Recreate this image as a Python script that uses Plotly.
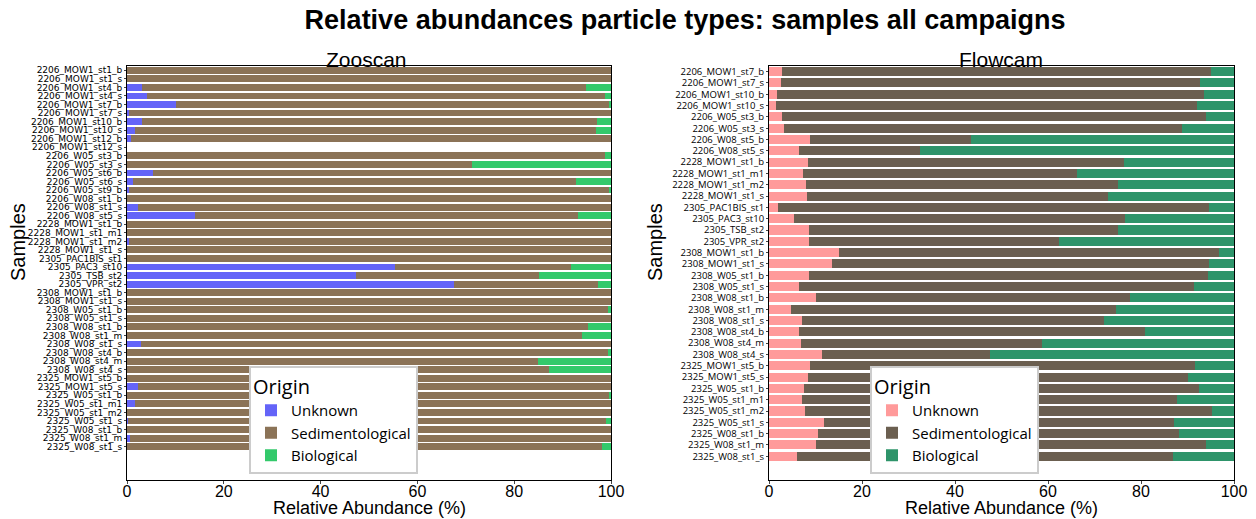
import plotly.graph_objects as go

# ---------------- Zooscan data ----------------
zoo_samples = [
    "2206_MOW1_st1_b", "2206_MOW1_st1_s", "2206_MOW1_st4_b", "2206_MOW1_st4_s",
    "2206_MOW1_st7_b", "2206_MOW1_st7_s", "2206_MOW1_st10_b", "2206_MOW1_st10_s",
    "2206_MOW1_st12_b", "2206_MOW1_st12_s", "2206_W05_st3_b", "2206_W05_st3_s",
    "2206_W05_st6_b", "2206_W05_st6_s", "2206_W05_st9_b", "2206_W08_st1_b",
    "2206_W08_st1_s", "2206_W08_st5_s", "2228_MOW1_st1_b", "2228_MOW1_st1_m1",
    "2228_MOW1_st1_m2", "2228_MOW1_st1_s", "2305_PAC1BIS_st1", "2305_PAC3_st10",
    "2305_TSB_st2", "2305_VPR_st2", "2308_MOW1_st1_b", "2308_MOW1_st1_s",
    "2308_W05_st1_b", "2308_W05_st1_s", "2308_W08_st1_b", "2308_W08_st1_m",
    "2308_W08_st1_s", "2308_W08_st4_b", "2308_W08_st4_m", "2308_W08_st4_s",
    "2325_MOW1_st5_b", "2325_MOW1_st5_s", "2325_W05_st1_b", "2325_W05_st1_m1",
    "2325_W05_st1_m2", "2325_W05_st1_s", "2325_W08_st1_b", "2325_W08_st1_m",
    "2325_W08_st1_s",
]
zoo_unknown = [0, 0, 3.0, 4.1, 10.2, 0.5, 3.1, 1.6, 0.9, 0,
               0, 0, 5.4, 1.2, 0.5, 0, 2.2, 14.0, 0, 0,
               0.5, 0, 0, 55.3, 47.3, 67.6, 0, 0, 0, 0,
               0, 0, 2.9, 0, 0, 0, 0, 2.2, 0, 1.7,
               0, 0.3, 0, 0.7, 0]
zoo_sediment = [100, 100, 91.8, 94.6, 89.3, 99.5, 94.0, 95.4, 99.1, 0,
                98.7, 71.3, 94.6, 91.6, 99.0, 100, 97.8, 79.2, 100, 100,
                99.5, 100, 100, 36.4, 37.9, 29.7, 100, 100, 99.4, 100,
                95.2, 94.1, 97.1, 99.4, 85.0, 87.2, 100, 97.8, 99.5, 98.3,
                100, 98.7, 100, 99.3, 98.1]
zoo_bio = [0, 0, 5.2, 1.3, 0.5, 0, 2.9, 3.0, 0, 0,
           1.3, 28.7, 0, 7.2, 0.5, 0, 0, 6.8, 0, 0,
           0, 0, 0, 8.3, 14.8, 2.7, 0, 0, 0.6, 0,
           4.8, 5.9, 0, 0.6, 15.0, 12.8, 0, 0, 0.5, 0,
           0, 1.0, 0, 0, 1.9]

# ---------------- Flowcam data ----------------
flow_samples = [
    "2206_MOW1_st7_b", "2206_MOW1_st7_s", "2206_MOW1_st10_b", "2206_MOW1_st10_s",
    "2206_W05_st3_b", "2206_W05_st3_s", "2206_W08_st5_b", "2206_W08_st5_s",
    "2228_MOW1_st1_b", "2228_MOW1_st1_m1", "2228_MOW1_st1_m2", "2228_MOW1_st1_s",
    "2305_PAC1BIS_st1", "2305_PAC3_st10", "2305_TSB_st2", "2305_VPR_st2",
    "2308_MOW1_st1_b", "2308_MOW1_st1_s", "2308_W05_st1_b", "2308_W05_st1_s",
    "2308_W08_st1_b", "2308_W08_st1_m", "2308_W08_st1_s", "2308_W08_st4_b",
    "2308_W08_st4_m", "2308_W08_st4_s", "2325_MOW1_st5_b", "2325_MOW1_st5_s",
    "2325_W05_st1_b", "2325_W05_st1_m1", "2325_W05_st1_m2", "2325_W05_st1_s",
    "2325_W08_st1_b", "2325_W08_st1_m", "2325_W08_st1_s",
]
flow_unknown = [2.9, 2.5, 1.7, 1.4, 2.9, 3.2, 8.8, 6.5, 8.4, 7.4,
                7.9, 8.1, 1.9, 5.3, 8.6, 8.6, 15.0, 13.5, 8.5, 6.4,
                10.0, 4.8, 7.0, 6.4, 6.8, 11.5, 8.8, 8.3, 7.6, 7.0,
                7.7, 11.9, 10.5, 10.2, 6.1]
flow_sediment = [92.2, 90.1, 91.8, 90.6, 91.1, 85.6, 34.7, 25.9, 68.0, 58.9,
                 67.1, 64.8, 92.7, 71.3, 66.5, 53.7, 81.8, 81.2, 85.9, 85.1,
                 67.7, 69.8, 65.0, 74.5, 52.0, 36.1, 82.9, 81.7, 84.8, 80.8,
                 87.6, 75.1, 77.6, 83.8, 80.7]
flow_bio = [4.9, 7.4, 6.5, 8.0, 6.0, 11.2, 56.5, 67.6, 23.6, 33.7,
            25.0, 27.1, 5.4, 23.4, 24.9, 37.7, 3.2, 5.3, 5.6, 8.5,
            22.3, 25.4, 28.0, 19.1, 41.2, 52.4, 8.3, 10.0, 7.6, 12.2,
            4.7, 13.0, 11.9, 6.0, 13.2]

x_ticks = [0, 20, 40, 60, 80, 100]
origin_names = ["Unknown", "Sedimentological", "Biological"]
zoo_colors = ["#6464f8", "#8b7357", "#33c96b"]
flow_colors = ["#ff9a9a", "#6b5f50", "#2e946a"]

W, H = 1256, 519
fig = go.Figure()

for name, vals, col in zip(origin_names, [zoo_unknown, zoo_sediment, zoo_bio], zoo_colors):
    fig.add_trace(go.Bar(x=vals, y=zoo_samples, orientation="h", name=name,
                         marker=dict(color=col, line=dict(width=0)),
                         xaxis="x", yaxis="y", legend="legend"))
for name, vals, col in zip(origin_names, [flow_unknown, flow_sediment, flow_bio], flow_colors):
    fig.add_trace(go.Bar(x=vals, y=flow_samples, orientation="h", name=name,
                         marker=dict(color=col, line=dict(width=0)),
                         xaxis="x2", yaxis="y2", legend="legend2"))

top_px, bot_px = 66, 480
ydom = [1 - bot_px / H, 1 - top_px / H]
axis_common = dict(showline=True, mirror=True, linecolor="black", linewidth=1,
                   showgrid=False, zeroline=False, automargin=False)
xfont = dict(family="Liberation Sans, Arial", size=16, color="black")
ttl_font = dict(family="Liberation Sans, Arial", size=18, color="black")
leg_common = dict(xanchor="left", yanchor="top",
                  bgcolor="white", bordercolor="#cccccc", borderwidth=2,
                  title=dict(text="Origin", font=dict(family="Open Sans", size=20, color="black")),
                  font=dict(family="Open Sans", size=15, color="black"),
                  traceorder="normal", itemwidth=30)

fig.update_layout(
    width=W, height=H,
    margin=dict(l=0, r=0, t=0, b=0),
    paper_bgcolor="white", plot_bgcolor="white",
    barmode="stack", bargap=0.2,
    title=dict(text="<b>Relative abundances particle types: samples all campaigns</b>",
               x=685 / W, xanchor="center", y=1 - 20 / H, yanchor="middle",
               font=dict(family="Liberation Sans, Arial", size=27, color="black")),
    xaxis=dict(domain=[127 / W, 611 / W], range=[0, 100], tickvals=x_ticks,
               ticks="outside", ticklen=3, tickfont=xfont, ticklabelstandoff=-6,
               anchor="y", **axis_common),
    yaxis=dict(domain=ydom, type="category", range=[47.9, -0.5],
               tickmode="array", tickvals=zoo_samples, ticktext=zoo_samples,
               ticks="outside", ticklen=2, tickfont=dict(family="DejaVu Sans", size=9, color="black"),
               anchor="x", **axis_common),
    xaxis2=dict(domain=[769 / W, 1234 / W], range=[0, 100], tickvals=x_ticks,
                ticks="outside", ticklen=3, tickfont=xfont, ticklabelstandoff=-6,
                anchor="y2", **axis_common),
    yaxis2=dict(domain=ydom, type="category", range=[36.1, -0.5],
                tickmode="array", tickvals=flow_samples, ticktext=flow_samples,
                ticks="outside", ticklen=2, tickfont=dict(family="Open Sans", size=9.5, color="black"),
                anchor="x2", **axis_common),
    legend=dict(x=249 / W, y=1 - 366 / H, **leg_common),
    legend2=dict(x=870 / W, y=1 - 366 / H, **leg_common),
    annotations=[
        dict(text="Zooscan", x=366 / W, y=1 - 59 / H, xref="paper", yref="paper",
             showarrow=False, xanchor="center", yanchor="middle",
             font=dict(family="Liberation Sans, Arial", size=21, color="black")),
        dict(text="Flowcam", x=1001 / W, y=1 - 59 / H, xref="paper", yref="paper",
             showarrow=False, xanchor="center", yanchor="middle",
             font=dict(family="Liberation Sans, Arial", size=21, color="black")),
        dict(text="Relative Abundance (%)", x=369 / W, y=1 - 508 / H, xref="paper", yref="paper",
             showarrow=False, xanchor="center", yanchor="middle", font=ttl_font),
        dict(text="Relative Abundance (%)", x=1001 / W, y=1 - 508 / H, xref="paper", yref="paper",
             showarrow=False, xanchor="center", yanchor="middle", font=ttl_font),
        dict(text="Samples", x=18 / W, y=1 - 242 / H, xref="paper", yref="paper",
             showarrow=False, xanchor="center", yanchor="middle", textangle=-90,
             font=dict(family="Liberation Sans, Arial", size=20, color="black")),
        dict(text="Samples", x=655 / W, y=1 - 242 / H, xref="paper", yref="paper",
             showarrow=False, xanchor="center", yanchor="middle", textangle=-90,
             font=dict(family="Liberation Sans, Arial", size=20, color="black")),
    ],
)

fig.write_html("out.html")
